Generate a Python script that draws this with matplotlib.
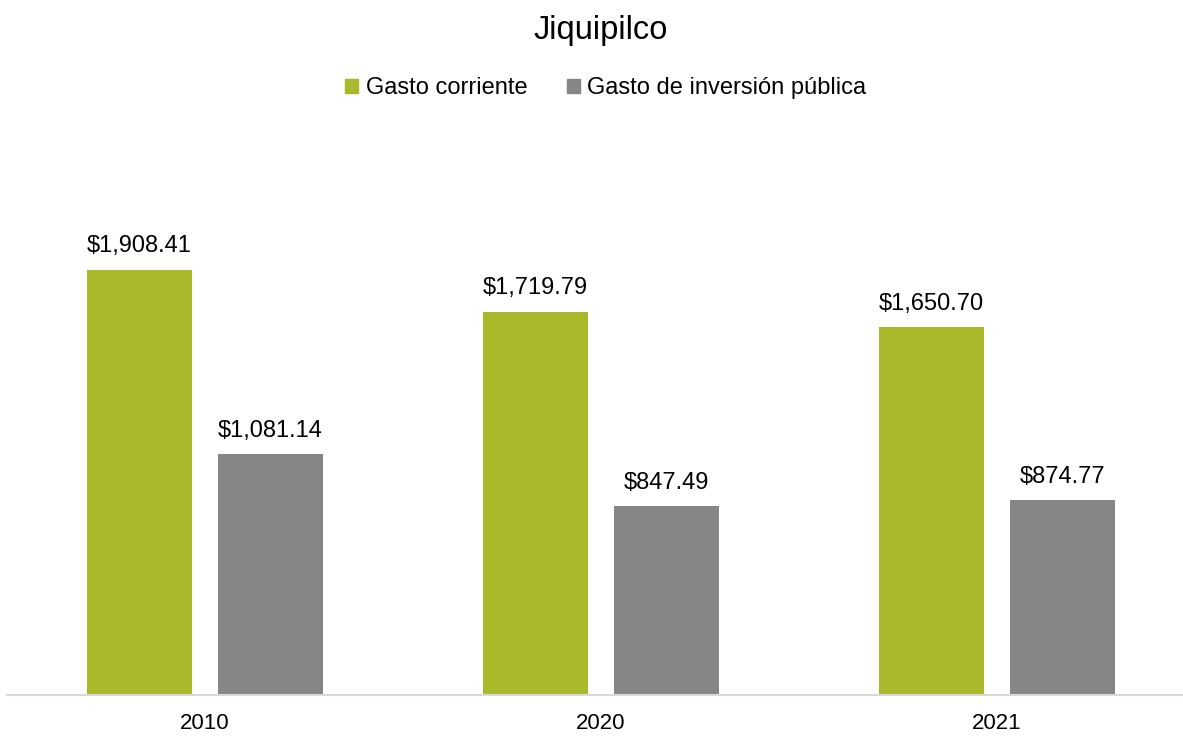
import matplotlib.pyplot as plt
import numpy as np
from matplotlib.patches import Patch

plt.rcParams['font.family'] = ['Liberation Sans', 'DejaVu Sans']

years = ['2010', '2020', '2021']
gasto_corriente = [1908.41, 1719.79, 1650.70]
gasto_inversion = [1081.14, 847.49, 874.77]
series_names = ['Gasto corriente', 'Gasto de inversión pública']
colors = ['#A9B92B', '#868686']

fig = plt.figure(figsize=(11.83, 7.36), dpi=100)
# the category axis runs slightly past the right edge of the figure
ax = fig.add_axes([7 / 1183, 41 / 736, 1188 / 1183, 545 / 736])

x = np.arange(len(years))
width = 0.265
offset = 0.165

bars1 = ax.bar(x - offset, gasto_corriente, width, color=colors[0])
bars2 = ax.bar(x + offset, gasto_inversion, width, color=colors[1])

for bars in (bars1, bars2):
    for b in bars:
        h = b.get_height()
        ax.annotate(f'${h:,.2f}', (b.get_x() + b.get_width() / 2, h),
                    xytext=(0, 9), textcoords='offset points',
                    ha='center', va='bottom', fontsize=17)

ax.set_xlim(-0.5, 2.5)
ax.set_ylim(0, 2447)
ax.set_xticks(x)
ax.set_xticklabels(years, fontsize=16)
ax.tick_params(axis='x', length=0, pad=13)
ax.set_yticks([])
for s in ['top', 'right', 'left']:
    ax.spines[s].set_visible(False)
ax.spines['bottom'].set_color('#D9D9D9')
ax.spines['bottom'].set_linewidth(1.5)

fig.text(601 / 1183, 1 - 31 / 736, 'Jiquipilco', ha='center', va='center', fontsize=23.5)

handles = [Patch(color=c) for c in colors]
fig.legend(handles, series_names, loc='center', bbox_to_anchor=(606 / 1183, 1 - 88 / 736),
           ncol=2, frameon=False, fontsize=17, handlelength=0.55, handleheight=0.55,
           handletextpad=0.3, columnspacing=1.7)

plt.savefig('out.png', dpi=100)
